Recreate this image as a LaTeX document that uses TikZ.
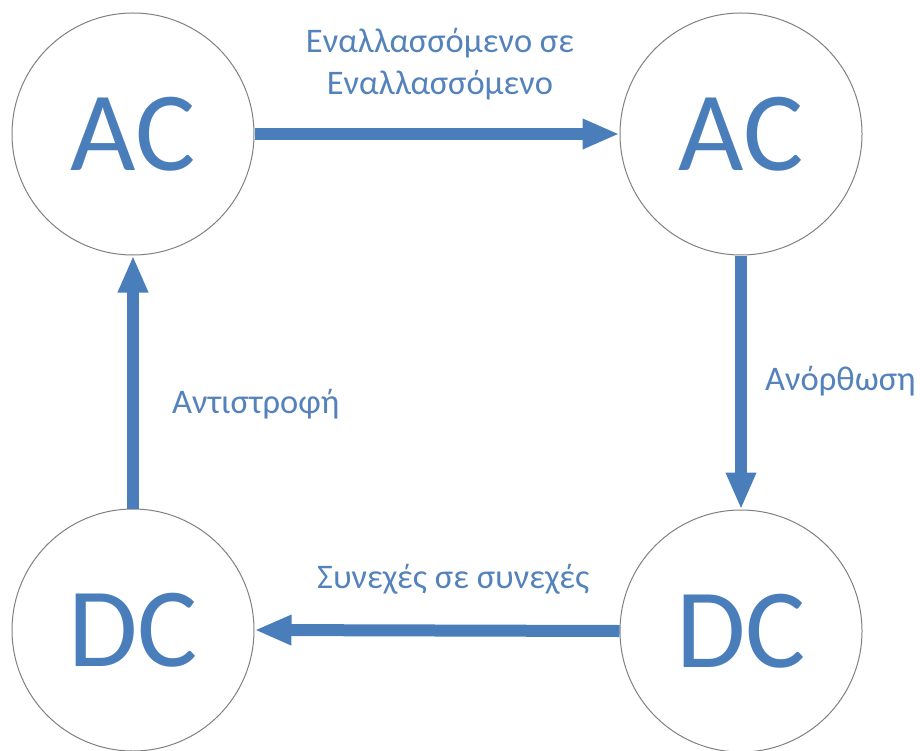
\documentclass[tikz,border=0pt]{standalone}
\usepackage{fontspec}
\setmainfont{Carlito}
\usetikzlibrary{arrows.meta}
\definecolor{flowblue}{RGB}{74,126,187}
\definecolor{labelblue}{RGB}{84,130,187}
\definecolor{ringgray}{RGB}{128,128,128}
\tikzset{
  state/.style={circle, draw=ringgray, line width=1pt, fill=white,
    minimum size=242pt, inner sep=0pt, text=flowblue,
    font=\fontsize{113}{113}\selectfont, text height=73pt, text depth=0pt},
  flow/.style={draw=flowblue, line width=12pt,
    -{Triangle[length=37pt, width=28pt]}},
  caption/.style={text=labelblue, inner sep=0pt,
    font=\fontsize{34.5}{42}\selectfont},
}
\begin{document}
\begin{tikzpicture}[x=1pt, y=-1pt]
  \useasboundingbox (0,0) rectangle (920,751);

  % the four states
  \node[state] (acin)  at (133,134) {AC};
  \node[state] (acout) at (741,134) {AC};
  \node[state] (dcin)  at (133,630) {DC};
  \node[state] (dcout) at (741,631) {DC};

  % conversions between them
  \draw[flow] (acin.east)  -- (acout.west);
  \draw[flow] (acout.south) -- (dcout.north);
  \draw[flow] (dcout.west) -- (dcin.east);
  \draw[flow] (dcin.north) -- (acin.south);

  % captions
  \node[caption, align=center, anchor=base] (lac) at (440,95)
    {Εναλλασσόμενο σε\\Εναλλασσόμενο};
  \node[caption, anchor=base west] (lrect) at (765,390) {Ανόρθωση};
  \node[caption, anchor=base west] (ldc) at (317,588) {Συνεχές σε συνεχές};
  \node[caption, anchor=base west] (linv) at (172,413) {Αντιστροφή};
\end{tikzpicture}
\end{document}
